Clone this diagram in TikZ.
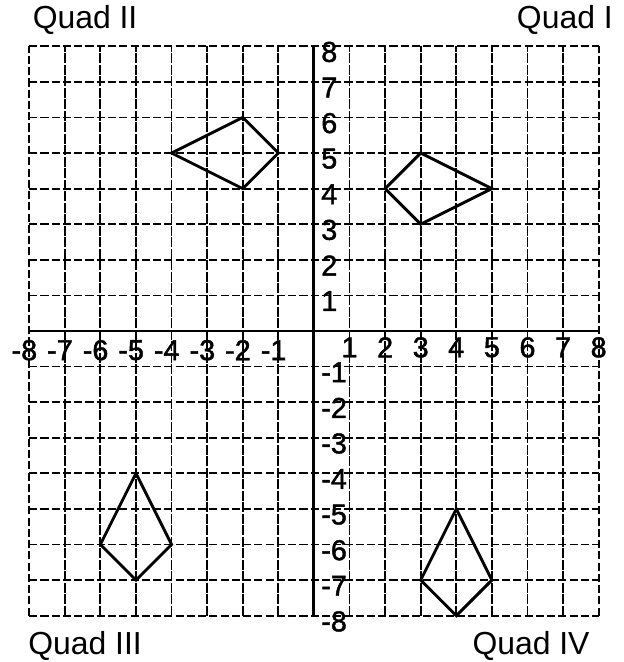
\documentclass[tikz,border=0pt]{standalone}
\usepackage{fontspec}
\setmainfont{Liberation Sans}
\newfontfamily\tickfont[FakeBold=1.5]{Liberation Sans}

\def\ticksize{\tickfont\fontsize{23}{26}\selectfont}
\def\quadsize{\fontsize{25.5}{29}\selectfont}

\begin{document}
\begin{tikzpicture}[x=1cm, y=1cm,
    hline/.style={line width=1.4pt, dash pattern=on 6.5pt off 2.5pt},
    vline/.style={line width=1.4pt, dash pattern=on 8pt off 1.2pt},
    axis/.style={line width=2.3pt},
    kite/.style={line width=2.3pt, line join=miter},
    tick/.style={inner sep=0pt, font=\ticksize},
    quad/.style={inner sep=0pt, font=\quadsize}]
      \useasboundingbox (-8.82,-9.30) rectangle (8.71,9.30);
      % grid
      \foreach \y in {-8,...,8}
        \draw[hline] (-8,\y) -- (8,\y);
      \foreach \x in {-7,...,7}
        \draw[vline] (\x,-8) -- (\x,8);
      \draw[hline] (-8,-8) -- (-8,8);
      \draw[hline] (8,-8) -- (8,8);
      % axes
      \draw[axis] (-8,0) -- (8,0);
      \draw[axis] (0,-8) -- (0,8);
      % axis numbers
      \foreach \n in {1,...,8} {
        \node[tick] (xp\n) at (\n,-0.46) {\n};
        \node[tick] (xn\n) at (-\n,-0.54) {\llap{-}\n};
        \node[tick, anchor=west] (yp\n) at (0.2,\n-0.16) {\n};
        \node[tick, anchor=west] (yn\n) at (0.2,-\n-0.16) {-\n};
      }
      % quadrant names
      \node[quad] (q1) at (7.05,8.75) {Quad I};
      \node[quad] (q2) at (-6.43,8.75) {Quad II};
      \node[quad] (q3) at (-6.43,-8.85) {Quad III};
      \node[quad] (q4) at (6.1,-8.85) {Quad IV};
      % shapes
      \draw[kite] (-4,5) -- (-2,6) -- (-1,5) -- (-2,4) -- cycle;
      \draw[kite] (2,4) -- (3,5) -- (5,4) -- (3,3) -- cycle;
      \draw[kite] (-5,-4) -- (-4,-6) -- (-5,-7) -- (-6,-6) -- cycle;
      \draw[kite] (4,-5) -- (5,-7) -- (4,-8) -- (3,-7) -- cycle;
    \end{tikzpicture}
\end{document}
